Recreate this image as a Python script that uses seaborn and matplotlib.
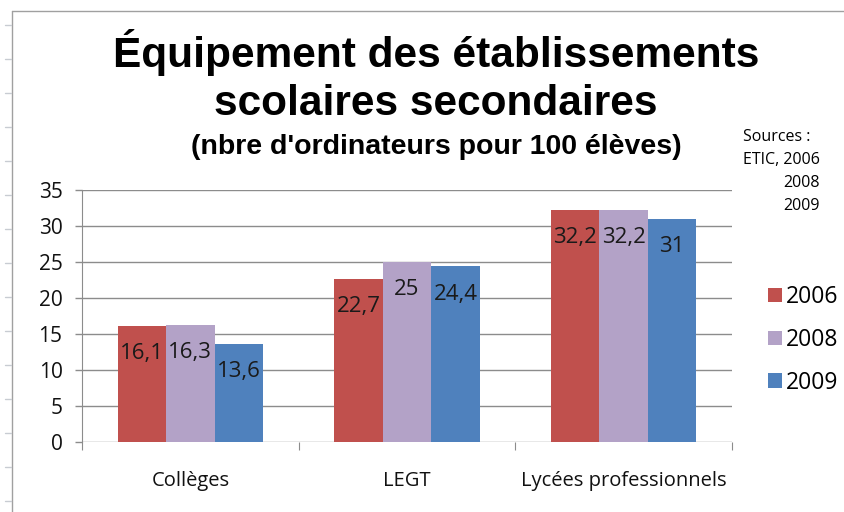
import pandas as pd
import matplotlib.pyplot as plt
import seaborn as sns
from matplotlib.lines import Line2D

# data
categories = ['Collèges', 'LEGT', 'Lycées professionnels']
years = ['2006', '2008', '2009']
v2006 = [16.1, 22.7, 32.2]
v2008 = [16.3, 25.0, 32.2]
v2009 = [13.6, 24.4, 31.0]
colors = ['#C0504D', '#B3A2C7', '#4F81BD']

rows = []
for year, vals in zip(years, [v2006, v2008, v2009]):
    for cat, v in zip(categories, vals):
        rows.append({'etab': cat, 'annee': year, 'valeur': v})
df = pd.DataFrame(rows)

sns.set_style('white')
plt.rcParams['font.family'] = ['Open Sans', 'DejaVu Sans']
plt.rcParams['text.color'] = 'black'

W, H = 845, 512
fig = plt.figure(figsize=(W / 100, H / 100), dpi=100)
ax = fig.add_axes([82 / W, 1 - 442 / H, (732 - 82) / W, (442 - 190) / H])

sns.barplot(data=df, x='etab', y='valeur', hue='annee', palette=colors,
            width=0.67, gap=0, saturation=1, linewidth=0, ax=ax, legend=True)

ax.set_ylim(0, 35)
ax.set_yticks(range(0, 36, 5))
ax.set_xlim(-0.5, 2.5)
ax.yaxis.grid(True, color='#8c8c8c', linewidth=1)
ax.set_axisbelow(True)
for s in ['top', 'right', 'bottom']:
    ax.spines[s].set_visible(False)
ax.spines['left'].set_color('#8c8c8c')
ax.set_xlabel('')
ax.set_ylabel('')
ax.tick_params(axis='y', length=5, width=1, color='#8c8c8c', labelsize=15, pad=9, left=True)
ax.tick_params(axis='x', length=0, labelsize=14.5, pad=21)
for lbl in ax.get_yticklabels() + ax.get_xticklabels():
    lbl.set_color('#111111')

# category separator ticks on x axis
sep = ax.secondary_xaxis('bottom')
sep.set_xticks([-0.5, 0.5, 1.5, 2.5])
sep.set_xticklabels([])
sep.tick_params(length=6, color='#8c8c8c')
sep.spines['bottom'].set_visible(False)

# value labels inside the top of each bar
for container in ax.containers:
    for bar in container:
        h = bar.get_height()
        txt = f'{h:g}'.replace('.', ',')
        ax.annotate(txt, (bar.get_x() + bar.get_width() / 2, h),
                    xytext=(0, -20), textcoords='offset points',
                    ha='center', va='center', fontsize=16, color='#1a1a1a')

leg = ax.legend(loc='center left', bbox_to_anchor=(768 / W, 1 - 340 / H),
                bbox_transform=fig.transFigure, frameon=False,
                borderaxespad=0, borderpad=0,
                fontsize=16.5, handlelength=0.6, handleheight=0.6,
                handletextpad=0.2, labelspacing=0.82)

# titles
fig.text(436 / W, 1 - 53 / H, 'Équipement des établissements', ha='center', va='center',
         fontsize=30.5, fontweight='bold', family='Liberation Sans')
fig.text(436 / W, 1 - 104 / H, 'scolaires secondaires', ha='center', va='center',
         fontsize=30.5, fontweight='bold', family='Liberation Sans')
fig.text(436 / W, 1 - 147 / H, "(nbre d'ordinateurs pour 100 élèves)", ha='center', va='center',
         fontsize=20.5, fontweight='bold', family='Liberation Sans')

# sources note
fig.text(743 / W, 1 - 137 / H, 'Sources :', fontsize=11.5, va='center')
fig.text(743 / W, 1 - 160 / H, 'ETIC, 2006', fontsize=11.5, va='center')
fig.text(783 / W, 1 - 183 / H, '2008', fontsize=11.5, va='center')
fig.text(783 / W, 1 - 206 / H, '2009', fontsize=11.5, va='center')

# chart frame and spreadsheet margin
fig.add_artist(Line2D([12 / W, 12 / W], [0, 1 - 11 / H], color='#a0a0a0', lw=1))
fig.add_artist(Line2D([12 / W, 1], [1 - 11 / H, 1 - 11 / H], color='#a0a0a0', lw=1))
for yy in range(25, 512, 34):
    fig.add_artist(Line2D([5 / W, 11 / W], [1 - yy / H, 1 - yy / H], color='#c8ccd2', lw=1))

fig.savefig('out.png', dpi=100)
